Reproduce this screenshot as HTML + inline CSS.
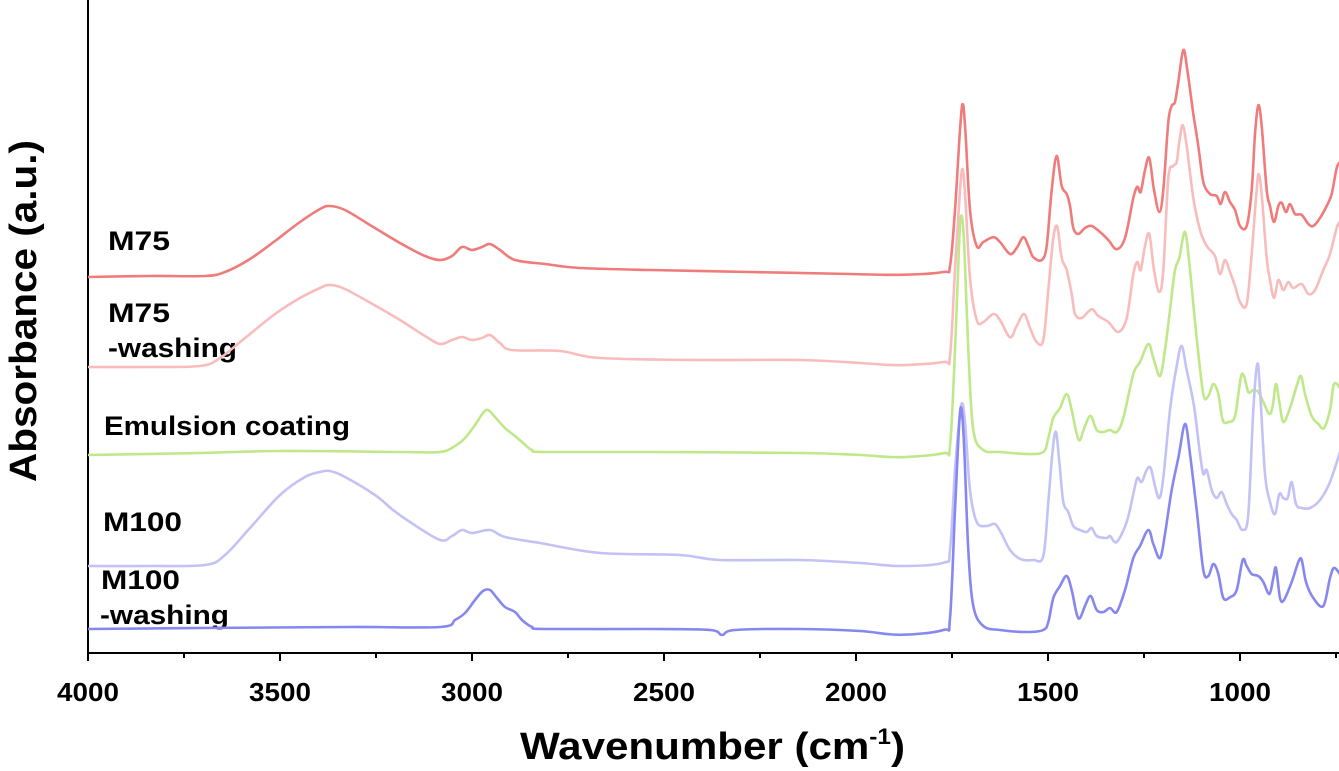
<!DOCTYPE html>
<html><head><meta charset="utf-8"><style>
body{margin:0;background:#fff;}
svg{display:block;font-family:"Liberation Sans",Arial,sans-serif;font-weight:bold;}
</style></head><body>
<svg id="s" width="1339" height="771" viewBox="0 0 1339 771">
<line x1="88" y1="0" x2="88" y2="653" stroke="#000" stroke-width="2"/>
<line x1="87" y1="653" x2="1339" y2="653" stroke="#000" stroke-width="2"/>
<g id="ticks" stroke="#000" stroke-width="2"></g>
<g font-size="26" text-anchor="middle">
<text x="88" y="701" textLength="62" lengthAdjust="spacingAndGlyphs">4000</text>
<text x="280" y="701" textLength="62" lengthAdjust="spacingAndGlyphs">3500</text>
<text x="472" y="701" textLength="62" lengthAdjust="spacingAndGlyphs">3000</text>
<text x="664" y="701" textLength="62" lengthAdjust="spacingAndGlyphs">2500</text>
<text x="856" y="701" textLength="62" lengthAdjust="spacingAndGlyphs">2000</text>
<text x="1048" y="701" textLength="62" lengthAdjust="spacingAndGlyphs">1500</text>
<text x="1240" y="701" textLength="62" lengthAdjust="spacingAndGlyphs">1000</text>
</g>
<text x="520" y="759" font-size="38" textLength="385" lengthAdjust="spacingAndGlyphs">Wavenumber (cm<tspan font-size="22" dy="-15">-1</tspan><tspan dy="15">)</tspan></text>
<text transform="translate(36,311) rotate(-90)" font-size="38" text-anchor="middle" textLength="342" lengthAdjust="spacingAndGlyphs">Absorbance (a.u.)</text>
<g font-size="27">
<text x="108" y="250" textLength="62" lengthAdjust="spacingAndGlyphs">M75</text>
<text x="108" y="322" textLength="62" lengthAdjust="spacingAndGlyphs">M75</text>
<text x="108" y="357" textLength="129" lengthAdjust="spacingAndGlyphs">-washing</text>
<text x="104" y="435" textLength="246" lengthAdjust="spacingAndGlyphs">Emulsion coating</text>
<text x="103" y="531" textLength="79" lengthAdjust="spacingAndGlyphs">M100</text>
<text x="101" y="589" textLength="79" lengthAdjust="spacingAndGlyphs">M100</text>
<text x="100" y="624" textLength="129" lengthAdjust="spacingAndGlyphs">-washing</text>
</g>
<g id="lines" fill="none" stroke-width="2.6" stroke-linejoin="round"></g>
</svg>
<script>
var t=document.getElementById('ticks'),h='';
for(var w=4000;w>=750;w-=250){var x=88+(4000-w)*0.384;var L=(w%500==0)?8:5;h+='<line x1="'+x+'" y1="653" x2="'+x+'" y2="'+(653+L)+'"/>';}
t.innerHTML=h;
function Z(a){var r=[];for(var i=0;i<a.length;i+=2)r.push([900+a[i]/3,30+a[i+1]/2.5]);return r;}
function P(a){var r=[];for(var i=0;i<a.length;i+=2)r.push([a[i],a[i+1]]);return r;}
var S=[
["#f07b7b",P([88,277,150,276,205,276,225,272,250,259,275,241,300,222,320,209,330,206,345,210,370,225,400,243,425,256,440,260,452,256,462,247,472,250,482,247,490,244,500,250,515,260,545,264,580,268,650,270,750,272,850,274]),
Z([0,612,130,605,150,590,165,450,180,250,188,185,196,250,210,450,230,540,250,530,280,518,300,530,330,560,350,545,370,518,385,540,400,568,425,575,440,540,455,400,470,315,485,390,500,410,510,440,520,495,535,510,555,495,575,490,600,505,625,525,650,548,675,520,700,420,712,392,722,405,735,350,748,320,762,400,778,455,790,400,805,230,815,190,825,180,835,130,850,50,862,100,880,210,895,290,910,380,930,410,950,415,962,435,975,405,990,430,1005,450,1020,490,1040,490,1055,400,1065,260,1075,188,1085,240,1100,400,1110,440,1122,480,1135,440,1145,432,1158,455,1170,435,1185,460,1205,462,1225,485,1240,490,1260,470,1280,440,1295,410,1310,345,1320,330])],
["#f9bcbc",P([88,367,150,367,200,366,220,358,245,338,275,314,300,298,320,288,330,285,345,289,376,306,400,320,425,336,440,344,452,340,462,337,472,340,482,338,490,335,500,343,512,350,560,351,600,358,700,360,800,360,860,363]),
Z([0,838,130,830,150,815,165,600,180,400,188,348,196,420,210,620,230,725,250,730,280,710,300,725,330,768,350,740,372,710,390,745,410,780,430,775,445,650,460,520,472,492,485,570,500,600,515,660,525,710,545,720,575,698,595,715,625,730,655,755,680,720,700,610,712,580,722,600,735,540,748,510,762,600,778,655,790,600,805,370,820,340,830,330,838,280,848,238,860,290,880,420,900,500,920,540,945,565,960,610,975,575,990,605,1005,640,1020,680,1040,685,1055,560,1068,420,1076,360,1086,420,1100,570,1110,625,1122,670,1135,625,1150,650,1165,630,1180,645,1205,635,1225,660,1245,650,1270,600,1290,560,1310,495,1320,480])],
["#bfe88a",P([88,455,200,453,280,451,400,452,440,452,455,446,465,438,475,425,483,413,488,410,495,417,505,428,515,436,522,442,532,450,545,452,650,452,800,453,860,455]),
Z([0,1068,130,1058,150,1040,165,800,178,520,185,465,193,540,205,800,220,1000,250,1050,300,1055,380,1060,430,1055,445,1020,460,970,480,945,500,910,515,950,530,1010,540,1025,555,990,572,965,590,1000,610,1005,630,1000,650,1005,670,970,700,860,720,830,745,785,760,820,780,865,795,800,810,700,825,600,838,570,855,505,870,600,890,770,910,910,925,915,940,885,955,910,968,975,985,980,1005,965,1022,870,1032,865,1045,905,1060,900,1075,905,1090,930,1108,960,1118,940,1128,885,1138,930,1150,980,1170,945,1190,890,1203,865,1215,910,1235,965,1255,985,1272,995,1290,950,1302,885,1320,895])],
["#c2c2f7",P([88,566,150,566,205,565,225,555,250,528,280,495,305,477,320,472,330,471,345,477,375,495,393,510,410,522,440,540,452,536,462,530,472,533,490,530,505,537,540,543,600,553,680,555,720,560,800,560,860,563]),
Z([0,1340,130,1332,150,1300,165,1100,180,960,188,935,196,990,210,1150,230,1230,260,1240,285,1235,305,1260,330,1300,360,1322,400,1325,430,1315,445,1180,458,1050,468,1005,478,1080,490,1180,505,1205,520,1240,540,1250,560,1255,575,1245,590,1265,620,1270,630,1265,650,1280,680,1230,700,1160,712,1120,725,1130,740,1100,752,1095,765,1140,778,1170,790,1120,810,950,830,840,845,790,860,850,882,940,900,1060,910,1110,920,1100,935,1150,950,1170,965,1155,980,1185,995,1210,1010,1225,1028,1250,1045,1210,1060,950,1072,835,1080,900,1095,1110,1110,1180,1125,1210,1138,1160,1150,1170,1163,1170,1175,1130,1188,1185,1205,1195,1230,1195,1260,1175,1290,1130,1320,1055])],
["#8787f0",P([88,629,200,628,350,627,440,627,455,620,465,613,475,600,483,591,490,590,497,598,505,607,515,612,522,620,532,627,545,629,650,629,710,630,722,635,735,630,800,629,860,631]),
Z([0,1512,130,1500,150,1470,165,1200,178,980,185,950,193,1050,205,1300,220,1440,250,1490,300,1500,380,1505,430,1500,445,1480,460,1420,480,1390,500,1365,515,1400,530,1460,540,1470,555,1440,572,1415,590,1450,610,1455,630,1445,650,1455,675,1400,700,1320,720,1290,745,1250,760,1285,780,1320,795,1260,815,1150,835,1070,855,985,870,1060,890,1200,910,1350,925,1365,940,1335,955,1360,970,1420,990,1418,1010,1400,1028,1325,1040,1340,1055,1360,1075,1365,1090,1380,1108,1410,1120,1370,1128,1345,1140,1420,1152,1425,1175,1380,1195,1330,1205,1325,1218,1380,1240,1420,1270,1440,1290,1370,1302,1345,1320,1360])]
];
function path(p){var d='M'+p[0][0].toFixed(1)+','+p[0][1].toFixed(1);
for(var i=0;i<p.length-1;i++){var a=p[i-1]||p[i],b=p[i],c=p[i+1],e=p[i+2]||c;
d+=' C'+(b[0]+(c[0]-a[0])/6).toFixed(1)+','+(b[1]+(c[1]-a[1])/6).toFixed(1)+' '+(c[0]-(e[0]-b[0])/6).toFixed(1)+','+(c[1]-(e[1]-b[1])/6).toFixed(1)+' '+c[0].toFixed(1)+','+c[1].toFixed(1);}
return d;}
var g='';S.forEach(function(s){g+='<path stroke="'+s[0]+'" d="'+path(s[1].concat(s[2]))+'"/>';});
document.getElementById('lines').innerHTML=g;
</script>
</body></html>
